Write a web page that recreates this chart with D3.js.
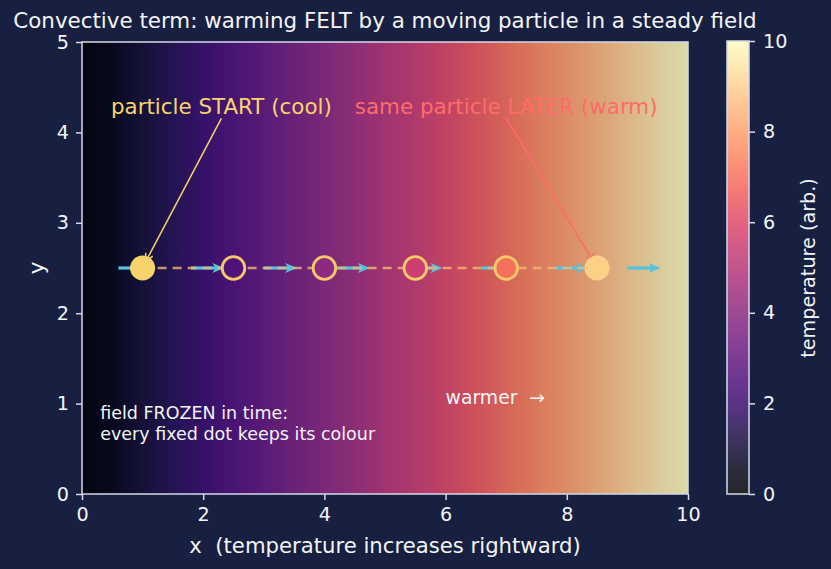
<!DOCTYPE html>
<html>
<head>
<meta charset="utf-8">
<script src="https://cdn.jsdelivr.net/npm/d3@7"></script>
<style>
  body { margin: 0; background: #16213e; }
  text { font-family: "DejaVu Sans", sans-serif; white-space: pre; }
</style>
</head>
<body>
<svg id="chart" width="831" height="569"></svg>
<script>
// temperature field: T rises linearly with x (stops for the gradient)
const fieldStops = [0, 0.5, 1, 1.5, 2, 2.5, 3, 3.5, 4, 4.5, 5, 5.5, 6, 6.5, 7, 7.5, 8, 8.5, 9, 9.5, 10];
const xTicks = [0, 2, 4, 6, 8, 10];
const yTicks = [0, 1, 2, 3, 4, 5];
const cbTicks = [0, 2, 4, 6, 8, 10];

// particle path and flow arrows
const particleX = [1, 2.5, 4, 5.5, 7, 8.5];
const particleY = 2.5;
const flowX = [0.6, 1.8, 3.0, 4.2, 5.4, 6.6, 7.8, 9.0];
const flowLen = 0.55;

const notes = [
  { text: 'particle START (cool)', tx: 2.3, ty: 4.2, px: 1, py: 2.5, color: '#f7d46b' },
  { text: 'same particle LATER (warm)', tx: 7.0, ty: 4.2, px: 8.5, py: 2.5, color: '#ff6b6b' }
];

const bg = '#172041';
const spine = '#d6d9e6';
const ink = '#f4f4f6';

const svg = d3.select('#chart');
svg.append('rect').attr('width', 831).attr('height', 569).attr('fill', bg);

const m = { left: 82, right: 688, top: 42, bottom: 494 };
const x = d3.scaleLinear().domain([0, 10]).range([m.left, m.right]);
const y = d3.scaleLinear().domain([0, 5]).range([m.bottom, m.top]);
const color = d3.scaleSequential(d3.interpolateMagma).domain([0, 10]);

const defs = svg.append('defs');
const fieldGrad = defs.append('linearGradient').attr('id', 'field')
  .attr('x1', '0%').attr('x2', '100%').attr('y1', '0%').attr('y2', '0%');
fieldGrad.selectAll('stop').data(fieldStops).join('stop')
  .attr('offset', d => (d / 10 * 100) + '%')
  .attr('stop-color', d => color(d));

const cbGrad = defs.append('linearGradient').attr('id', 'cbar')
  .attr('x1', '0%').attr('x2', '0%').attr('y1', '100%').attr('y2', '0%');
cbGrad.selectAll('stop').data(fieldStops).join('stop')
  .attr('offset', d => (d / 10 * 100) + '%')
  .attr('stop-color', d => color(d));

// heat field
svg.append('rect')
  .attr('x', x(0)).attr('y', y(5))
  .attr('width', x(10) - x(0)).attr('height', y(0) - y(5))
  .attr('fill', 'url(#field)').attr('opacity', 0.85);

// flow arrows (cyan)
const flow = svg.append('g');
flowX.forEach(fx => {
  const x0 = x(fx), x1 = x(fx + flowLen), yy = y(particleY);
  flow.append('line')
    .attr('x1', x0).attr('x2', x1 - 9).attr('y1', yy).attr('y2', yy)
    .attr('stroke', '#56c2de').attr('stroke-width', 3.2);
  flow.append('path')
    .attr('d', `M${x1},${yy} L${x1 - 12},${yy - 5} L${x1 - 9},${yy} L${x1 - 12},${yy + 5} Z`)
    .attr('fill', '#56c2de');
});

// trajectory
svg.append('path')
  .attr('d', d3.line()([[x(particleX[0]), y(particleY)], [x(particleX[particleX.length - 1]), y(particleY)]]))
  .attr('stroke', '#f2b870').attr('stroke-opacity', 0.8)
  .attr('stroke-width', 2.5).attr('stroke-dasharray', '9,6').attr('fill', 'none');

// annotation arrows
notes.forEach(n => {
  const tx = x(n.tx), ty = y(n.ty) + 4;
  const px = x(n.px), py = y(n.py);
  const dx = px - tx, dy = py - (ty - 12);
  const len = Math.hypot(dx, dy);
  const ux = dx / len, uy = dy / len;
  const ex = px - ux * 7, ey = py - uy * 7;
  svg.append('line')
    .attr('x1', tx).attr('y1', ty)
    .attr('x2', ex).attr('y2', ey)
    .attr('stroke', n.color).attr('stroke-width', 1.5);
  const a = 0.45, L = 9;
  const ang = Math.atan2(uy, ux);
  svg.append('path')
    .attr('d', `M${ex - L * Math.cos(ang - a)},${ey - L * Math.sin(ang - a)} L${ex},${ey} L${ex - L * Math.cos(ang + a)},${ey - L * Math.sin(ang + a)}`)
    .attr('stroke', n.color).attr('stroke-width', 1.5).attr('fill', 'none');
});

// particles
const last = particleX.length - 1;
svg.append('g').selectAll('circle').data(particleX).join('circle')
  .attr('cx', d => x(d)).attr('cy', y(particleY))
  .attr('r', (d, i) => (i === 0 || i === last) ? 12.5 : 11.3)
  .attr('fill', (d, i) => i === 0 ? '#f7d46b' : i === last ? '#fcd086' : color(d))
  .attr('stroke', (d, i) => i === 0 ? '#f7d46b' : i === last ? '#fcd086' : '#f9c868')
  .attr('stroke-width', (d, i) => (i === 0 || i === last) ? 0 : 2.8);

// annotation text
notes.forEach(n => {
  svg.append('text')
    .attr('x', x(n.tx)).attr('y', y(n.ty))
    .attr('text-anchor', 'middle')
    .attr('font-size', 21.4)
    .attr('fill', n.color)
    .text(n.text);
});

svg.append('text')
  .attr('x', x(6)).attr('y', y(1))
  .attr('font-size', 18.8).attr('fill', ink)
  .text('warmer  \u2192');

const frozen = svg.append('text').attr('font-size', 17.5).attr('fill', ink);
frozen.append('tspan').attr('x', x(0.3)).attr('y', y(0.6) - 21).text('field FROZEN in time:');
frozen.append('tspan').attr('x', x(0.3)).attr('y', y(0.6)).text('every fixed dot keeps its colour');

// frame
svg.append('rect')
  .attr('x', m.left).attr('y', m.top)
  .attr('width', m.right - m.left).attr('height', m.bottom - m.top)
  .attr('fill', 'none').attr('stroke', spine).attr('stroke-width', 1.5);

function styleAxis(g) {
  g.select('.domain').remove();
  g.selectAll('.tick line').attr('stroke', spine).attr('stroke-width', 1.5);
  g.selectAll('.tick text').attr('fill', ink).attr('font-size', 19.2)
    .attr('font-family', '"DejaVu Sans", sans-serif');
}

svg.append('g').attr('transform', `translate(0,${m.bottom})`)
  .call(d3.axisBottom(x).tickValues(xTicks).tickSize(6).tickPadding(7).tickFormat(d3.format('d')))
  .call(styleAxis);

svg.append('g').attr('transform', `translate(${m.left},0)`)
  .call(d3.axisLeft(y).tickValues(yTicks).tickSize(6).tickPadding(7).tickFormat(d3.format('d')))
  .call(styleAxis);

svg.append('text')
  .attr('x', (m.left + m.right) / 2).attr('y', 553)
  .attr('text-anchor', 'middle').attr('font-size', 21.2).attr('fill', ink)
  .text('x  (temperature increases rightward)');

svg.append('text')
  .attr('transform', `translate(44,${(m.top + m.bottom) / 2}) rotate(-90)`)
  .attr('text-anchor', 'middle').attr('font-size', 21.2).attr('fill', ink)
  .text('y');

svg.append('text')
  .attr('x', (m.left + m.right) / 2).attr('y', 28)
  .attr('text-anchor', 'middle').attr('font-size', 21.4).attr('fill', ink)
  .text('Convective term: warming FELT by a moving particle in a steady field');

// colorbar
const cb = { left: 727, right: 749 };
const cy = d3.scaleLinear().domain([0, 10]).range([m.bottom, m.top - 1]);
svg.append('rect')
  .attr('x', cb.left).attr('y', cy(10)).attr('width', cb.right - cb.left).attr('height', cy(0) - cy(10))
  .attr('fill', '#ffffff');
svg.append('rect')
  .attr('x', cb.left).attr('y', cy(10)).attr('width', cb.right - cb.left).attr('height', cy(0) - cy(10))
  .attr('fill', 'url(#cbar)').attr('opacity', 0.85);
svg.append('rect')
  .attr('x', cb.left).attr('y', cy(10)).attr('width', cb.right - cb.left).attr('height', cy(0) - cy(10))
  .attr('fill', 'none').attr('stroke', spine).attr('stroke-width', 1.5);

svg.append('g').attr('transform', `translate(${cb.right},0)`)
  .call(d3.axisRight(cy).tickValues(cbTicks).tickSize(6).tickPadding(8).tickFormat(d3.format('d')))
  .call(styleAxis);

svg.append('text')
  .attr('transform', `translate(815,${(m.top + m.bottom) / 2}) rotate(-90)`)
  .attr('text-anchor', 'middle').attr('font-size', 19.2).attr('fill', ink)
  .text('temperature (arb.)');
</script>
</body>
</html>
